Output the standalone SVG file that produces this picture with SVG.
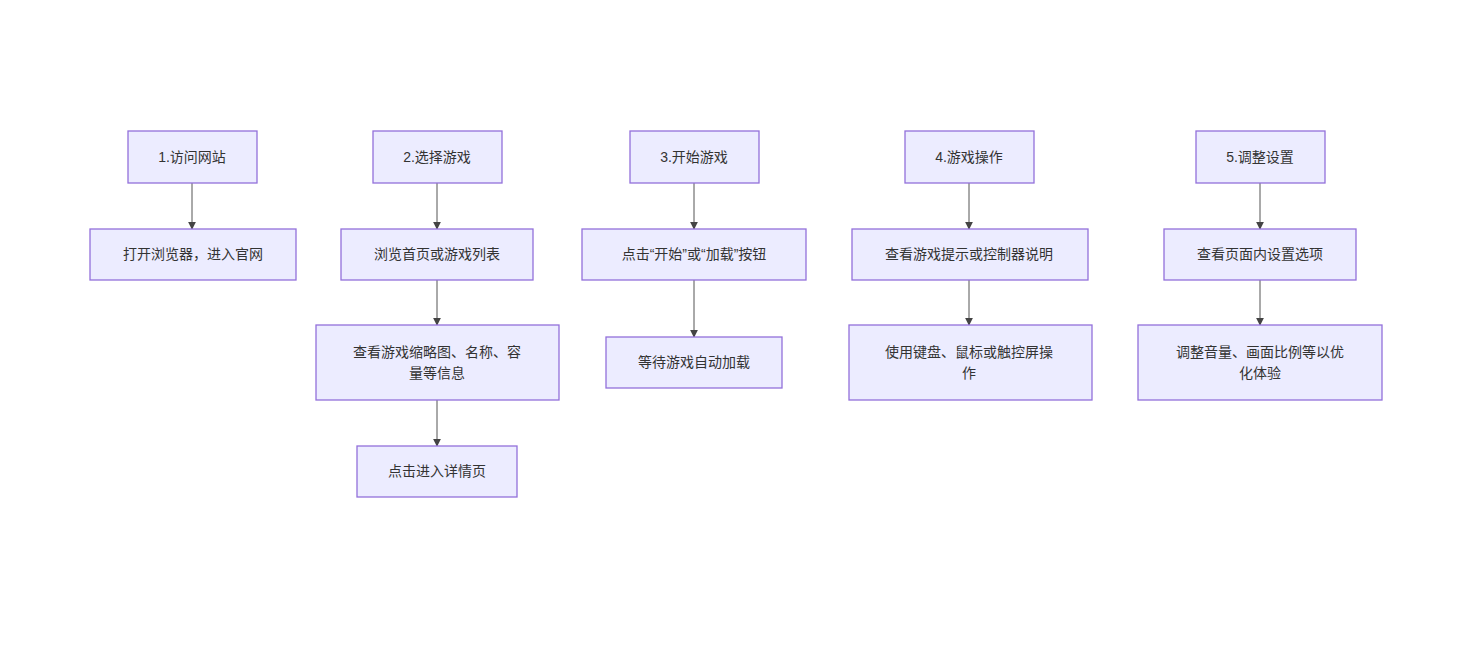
<svg xmlns="http://www.w3.org/2000/svg" width="1460" height="653" viewBox="0 0 1460 653">
<style>
.n rect{fill:#ECECFF;stroke:#9370DB;stroke-width:1.3}
.n text{font-family:"Liberation Sans","Noto Sans CJK SC",sans-serif;font-size:14px;fill:#333;text-anchor:middle;dominant-baseline:central}
.e line{stroke:#555;stroke-width:1;marker-end:url(#ah)}
</style>
<defs>
<marker id="ah" viewBox="0 0 10 10" refX="9" refY="5" markerWidth="8" markerHeight="8" orient="auto"><path d="M0,0 L10,5 L0,10 z" fill="#444"/></marker>
</defs>
<rect width="1460" height="653" fill="#fff"/>
<g class="e">
<line x1="192" y1="183" x2="192" y2="229"/>
<line x1="437" y1="183" x2="437" y2="229"/>
<line x1="437" y1="280" x2="437" y2="325"/>
<line x1="437" y1="400" x2="437" y2="446"/>
<line x1="694" y1="183" x2="694" y2="229"/>
<line x1="694" y1="280" x2="694" y2="337"/>
<line x1="969" y1="183" x2="969" y2="229"/>
<line x1="969" y1="280" x2="969" y2="325"/>
<line x1="1260" y1="183" x2="1260" y2="229"/>
<line x1="1260" y1="280" x2="1260" y2="325"/>
</g>
<g id="a1" class="n"><rect x="128" y="131" width="129" height="52"/><text x="192" y="157">1.访问网站</text></g>
<g id="a2" class="n"><rect x="90" y="229" width="206" height="51"/><text x="193" y="254">打开浏览器，进入官网</text></g>
<g id="b1" class="n"><rect x="373" y="131" width="129" height="52"/><text x="437" y="157">2.选择游戏</text></g>
<g id="b2" class="n"><rect x="341" y="229" width="192" height="51"/><text x="437" y="254">浏览首页或游戏列表</text></g>
<g id="b3" class="n"><rect x="316" y="325" width="243" height="75"/><text x="437" y="352">查看游戏缩略图、名称、容</text><text x="437" y="373">量等信息</text></g>
<g id="b4" class="n"><rect x="357" y="446" width="160" height="51"/><text x="437" y="471">点击进入详情页</text></g>
<g id="c1" class="n"><rect x="630" y="131" width="129" height="52"/><text x="694" y="157">3.开始游戏</text></g>
<g id="c2" class="n"><rect x="582" y="229" width="224" height="51"/><text x="694" y="254">点击“开始”或“加载”按钮</text></g>
<g id="c3" class="n"><rect x="606" y="337" width="176" height="51"/><text x="694" y="362">等待游戏自动加载</text></g>
<g id="d1" class="n"><rect x="905" y="131" width="129" height="52"/><text x="969" y="157">4.游戏操作</text></g>
<g id="d2" class="n"><rect x="852" y="229" width="236" height="51"/><text x="969" y="254">查看游戏提示或控制器说明</text></g>
<g id="d3" class="n"><rect x="849" y="325" width="243" height="75"/><text x="969" y="352">使用键盘、鼠标或触控屏操</text><text x="969" y="373">作</text></g>
<g id="e1" class="n"><rect x="1196" y="131" width="129" height="52"/><text x="1260" y="157">5.调整设置</text></g>
<g id="e2" class="n"><rect x="1164" y="229" width="192" height="51"/><text x="1260" y="254">查看页面内设置选项</text></g>
<g id="e3" class="n"><rect x="1138" y="325" width="244" height="75"/><text x="1260" y="352">调整音量、画面比例等以优</text><text x="1260" y="373">化体验</text></g>
</svg>
